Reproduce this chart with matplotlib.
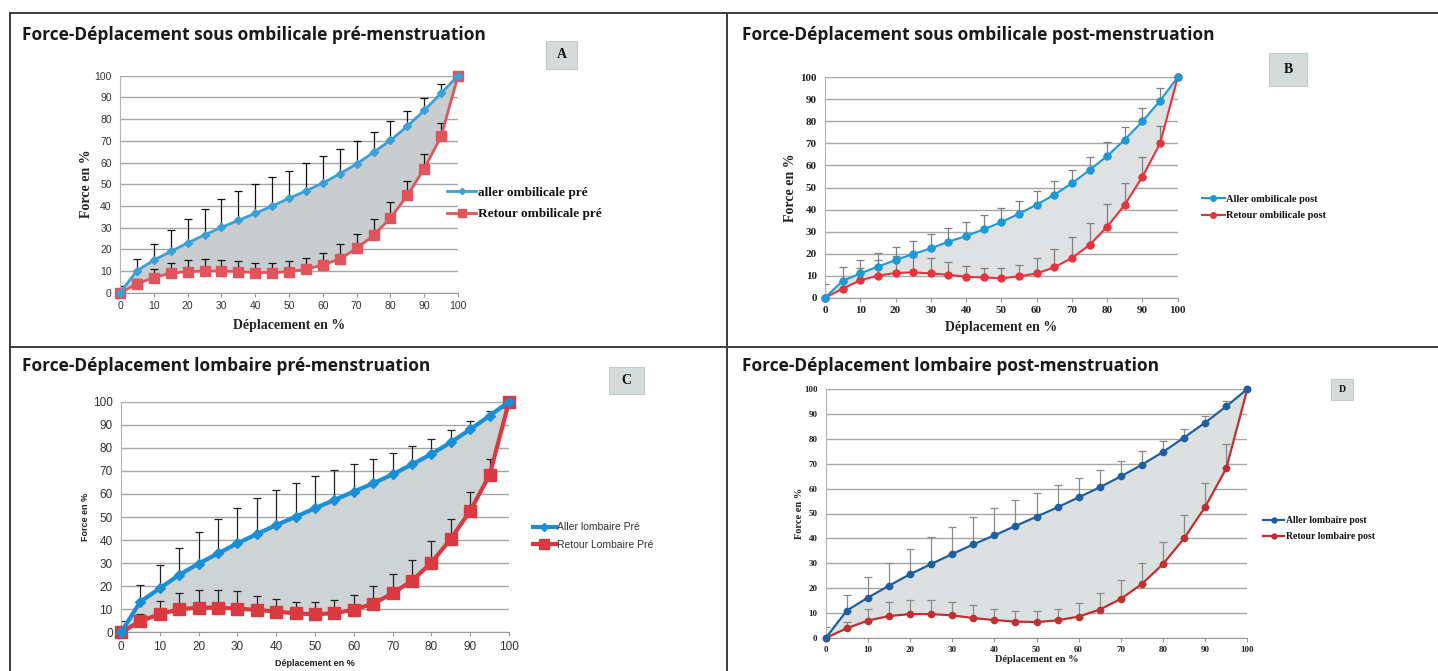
import matplotlib
matplotlib.use("Agg")
import matplotlib.pyplot as plt
from matplotlib.patches import Rectangle
from matplotlib.lines import Line2D

W, H = 1438, 671
fig = plt.figure(figsize=(W / 100, H / 100), dpi=100)

# ---------------- data ----------------
deplacement = [0, 5, 10, 15, 20, 25, 30, 35, 40, 45, 50, 55, 60, 65, 70, 75, 80, 85, 90, 95, 100]
ticks = [0, 10, 20, 30, 40, 50, 60, 70, 80, 90, 100]

# A : sous ombilicale pré-menstruation
a_aller = [0, 10.1, 15.0, 19.0, 22.9, 26.6, 30.1, 33.3, 36.6, 39.9, 43.5, 46.9, 50.5, 54.8, 59.3, 64.7, 70.2, 76.7, 84.0, 91.9, 100]
a_aller_top = [3.0, 15.7, 22.6, 29.0, 34.0, 38.8, 43.3, 46.8, 50.3, 53.5, 56.3, 59.6, 62.8, 66.4, 70.0, 74.0, 79.0, 83.6, 89.7, 96.4, 100]
a_retour = [0, 4.0, 7.0, 9.0, 9.7, 10.0, 10.0, 9.7, 9.3, 9.3, 9.7, 10.8, 12.8, 15.5, 20.4, 26.4, 34.4, 44.8, 57.2, 72.0, 100]
a_retour_top = [0, 6.2, 10.7, 13.5, 15.0, 15.4, 15.0, 14.6, 13.9, 13.9, 14.6, 16.2, 18.5, 22.5, 27.2, 34.0, 42.0, 51.7, 63.7, 78.0, 100]

# B : sous ombilicale post-menstruation
b_aller = [0, 7.6, 11.0, 14.1, 17.1, 19.8, 22.4, 25.4, 28.0, 31.0, 34.3, 38.1, 42.2, 46.7, 51.9, 57.9, 64.3, 71.7, 80.0, 89.4, 100]
b_aller_top = [6.0, 13.8, 17.1, 20.1, 23.1, 25.9, 28.7, 31.5, 34.3, 37.4, 40.8, 44.0, 48.3, 53.1, 57.9, 63.8, 70.5, 77.6, 85.9, 95.3, 100]
b_retour = [0, 4.1, 7.9, 10.0, 11.2, 11.5, 11.0, 10.4, 9.5, 9.2, 8.8, 9.7, 11.0, 13.8, 18.0, 23.9, 32.2, 42.2, 54.9, 70.0, 100]
b_retour_top = [0, 7.0, 13.5, 17.2, 18.8, 18.5, 17.9, 16.1, 14.6, 13.3, 13.4, 15.0, 18.0, 22.0, 27.4, 34.0, 42.3, 52.2, 64.0, 78.0, 100]

# C : lombaire pré-menstruation
c_aller = [0, 13.3, 19.1, 24.9, 29.8, 34.2, 38.6, 42.6, 46.5, 50.1, 53.8, 57.4, 61.0, 64.6, 68.5, 72.8, 77.3, 82.4, 88.0, 93.9, 100]
c_aller_top = [4.9, 20.7, 29.2, 36.7, 43.5, 49.3, 53.9, 58.2, 61.8, 64.9, 67.8, 70.2, 72.8, 75.3, 77.9, 80.6, 84.0, 87.6, 91.5, 95.8, 100]
c_retour = [0, 4.8, 7.9, 10.0, 10.7, 10.7, 10.3, 9.7, 9.0, 8.2, 7.8, 8.3, 9.8, 12.4, 16.9, 22.4, 30.2, 40.5, 52.7, 68.2, 100]
c_retour_top = [0, 7.8, 13.6, 17.1, 18.4, 18.4, 17.8, 15.9, 14.5, 13.2, 13.2, 14.0, 16.2, 19.9, 25.3, 31.4, 39.6, 49.3, 61.0, 75.3, 100]

# D : lombaire post-menstruation
d_aller = [0, 11.0, 16.2, 21.0, 25.6, 29.7, 33.7, 37.6, 41.2, 45.0, 48.7, 52.5, 56.5, 60.5, 64.9, 69.6, 74.7, 80.5, 86.5, 93.0, 100]
d_aller_top = [4.3, 17.4, 24.4, 30.3, 35.6, 40.4, 44.7, 48.5, 52.1, 55.3, 58.1, 61.3, 64.4, 67.6, 70.9, 74.9, 79.0, 83.8, 89.0, 95.0, 100]
d_retour = [0, 3.9, 7.0, 8.8, 9.6, 9.6, 9.1, 8.0, 7.2, 6.6, 6.4, 7.1, 8.6, 11.4, 15.7, 21.7, 29.7, 40.0, 52.6, 68.1, 100]
d_retour_top = [0, 6.6, 11.5, 14.3, 15.4, 15.4, 14.6, 13.1, 11.8, 10.7, 10.7, 11.8, 14.2, 17.9, 23.2, 30.0, 38.7, 49.3, 62.1, 77.9, 100]

titles = ["Force-Déplacement sous ombilicale pré-menstruation",
          "Force-Déplacement sous ombilicale post-menstruation",
          "Force-Déplacement lombaire pré-menstruation",
          "Force-Déplacement lombaire post-menstruation"]
letters = ["A", "B", "C", "D"]
legend_aller = ["aller ombilicale pré", "Aller ombilicale post", "Aller lombaire Pré", "Aller lombaire post"]
legend_retour = ["Retour ombilicale pré", "Retour ombilicale post", "Retour Lombaire Pré", "Retour lombaire post"]
ylabel = "Force en %"
xlabel = "Déplacement en %"

series = [(a_aller, a_aller_top, a_retour, a_retour_top),
          (b_aller, b_aller_top, b_retour, b_retour_top),
          (c_aller, c_aller_top, c_retour, c_retour_top),
          (d_aller, d_aller_top, d_retour, d_retour_top)]

# ---------------- layout / styles ----------------
SERIF = ["Liberation Serif", "DejaVu Serif"]
SANS = ["Liberation Sans", "DejaVu Sans"]
TITLEF = ["Open Sans", "DejaVu Sans"]

styles = [
    dict(box=(120, 458, 75.7, 292.7), title_xy=(22, 35),
         blue="#3aa0d8", red="#e2545c", fill="#c9cdd0", lw=2.0,
         bm="D", bms=4, rm="s", rms=7.5, err="#111111",
         tickfont=SANS, tickw="normal", ticksize=7.5, tickcolor="#333333",
         labfont=SERIF, labsize=10, ylab_x=86, xlab_y=325,
         leg_xy=(447, 203.5), leg_size=9.5, leg_font=SERIF, leg_w="bold",
         leg_color="#111111", lbox=(546, 577, 41, 69), lsize=10),
    dict(box=(825, 1177.7, 77.3, 297.7), title_xy=(742, 35),
         blue="#1a9ad6", red="#e8323c", fill="#dfe1e2", lw=1.5,
         bm="o", bms=5, rm="o", rms=5, err="#7f7f7f",
         tickfont=SERIF, tickw="bold", ticksize=8, tickcolor="#222222",
         labfont=SERIF, labsize=10, ylab_x=790, xlab_y=327,
         leg_xy=(1202, 207.5), leg_size=7.5, leg_font=SERIF, leg_w="bold",
         leg_color="#111111", lbox=(1269, 1307, 53, 86), lsize=10),
    dict(box=(121, 509, 401.7, 632.3), title_xy=(22, 366),
         blue="#1a8fd6", red="#d9393f", fill="#ced3d5", lw=3.0,
         bm="D", bms=5, rm="s", rms=9, err="#222222",
         tickfont=SANS, tickw="normal", ticksize=8.5, tickcolor="#333333",
         labfont=SANS, labsize=6.5, ylab_x=85, xlab_y=663,
         leg_xy=(533, 536), leg_size=7.5, leg_font=SANS, leg_w="normal",
         leg_color="#333333", lbox=(609, 644, 367, 394), lsize=10),
    dict(box=(825.7, 1247.3, 389, 638), title_xy=(742, 366),
         blue="#1f5fa0", red="#c0302f", fill="#dde0e1", lw=1.6,
         bm="o", bms=4.5, rm="o", rms=4.5, err="#8a8a8a",
         tickfont=SERIF, tickw="bold", ticksize=6.5, tickcolor="#222222",
         labfont=SERIF, labsize=7.5, ylab_x=800, xlab_y=660,
         leg_xy=(1263, 528.5), leg_size=7, leg_font=SERIF, leg_w="bold",
         leg_color="#111111", lbox=(1331, 1353, 379, 400), lsize=7),
]


def fx(x):
    return x / W


def fy(y):
    return 1 - y / H


# frame lines of the table
frame_kw = dict(color="#3c3c3c", lw=1.4, transform=fig.transFigure)
fig.add_artist(Line2D([fx(10), 1], [fy(13), fy(13)], **frame_kw))
fig.add_artist(Line2D([fx(10), 1], [fy(347), fy(347)], **frame_kw))
fig.add_artist(Line2D([fx(10), fx(10)], [fy(13), 0], **frame_kw))
fig.add_artist(Line2D([fx(727), fx(727)], [fy(13), 0], **frame_kw))

for i, st in enumerate(styles):
    aller, aller_top, retour, retour_top = series[i]
    l, r, t, b = st["box"]
    ax = fig.add_axes([fx(l), fy(b), (r - l) / W, (b - t) / H])

    ax.fill_between(deplacement, retour, aller, color=st["fill"], zorder=1, lw=0)

    err_a = [[0] * len(aller), [max(0, tp - v) for tp, v in zip(aller_top, aller)]]
    err_r = [[0] * len(retour), [max(0, tp - v) for tp, v in zip(retour_top, retour)]]
    ax.errorbar(deplacement, aller, yerr=err_a, fmt="none", ecolor=st["err"],
                elinewidth=0.9, capsize=3, capthick=0.9, zorder=2)
    ax.errorbar(deplacement, retour, yerr=err_r, fmt="none", ecolor=st["err"],
                elinewidth=0.9, capsize=3, capthick=0.9, zorder=2)

    ax.plot(deplacement, aller, color=st["blue"], lw=st["lw"], marker=st["bm"],
            ms=st["bms"], mec=st["blue"], mfc=st["blue"], zorder=4, clip_on=False,
            label=legend_aller[i])
    ax.plot(deplacement, retour, color=st["red"], lw=st["lw"], marker=st["rm"],
            ms=st["rms"], mec=st["red"], mfc=st["red"], zorder=3, clip_on=False,
            label=legend_retour[i])

    ax.set_xlim(0, 100)
    ax.set_ylim(0, 100)
    ax.set_xticks(ticks)
    ax.set_yticks(ticks)
    ax.yaxis.grid(True, color="#a6a6a6", lw=1.0)
    ax.set_axisbelow(True)
    for s in ["top", "right"]:
        ax.spines[s].set_visible(False)
    ax.spines["left"].set_color("#b5b5b5")
    ax.spines["bottom"].set_color("#9a9a9a")
    ax.tick_params(axis="y", length=0, pad=6)
    ax.tick_params(axis="x", length=3, color="#9a9a9a", pad=3)
    for lab in ax.get_xticklabels() + ax.get_yticklabels():
        lab.set_family(st["tickfont"])
        lab.set_fontweight(st["tickw"])
        lab.set_fontsize(st["ticksize"])
        lab.set_color(st["tickcolor"])

    # axis labels (figure-placed)
    fig.text(fx(st["ylab_x"]), fy((t + b) / 2), ylabel, rotation=90, ha="center",
             va="center", family=st["labfont"], fontweight="bold",
             fontsize=st["labsize"], color="#222222")
    fig.text(fx((l + r) / 2), fy(st["xlab_y"]), xlabel, ha="center", va="center",
             family=st["labfont"], fontweight="bold", fontsize=st["labsize"],
             color="#222222")

    # title
    fig.text(fx(st["title_xy"][0]), fy(st["title_xy"][1]), titles[i], ha="left",
             va="center", family=TITLEF, fontweight="bold", fontsize=12.5,
             color="#1a1a1a")

    # legend
    lx, ly = st["leg_xy"]
    leg = ax.legend(loc="center left", bbox_to_anchor=(fx(lx), fy(ly)),
                    bbox_transform=fig.transFigure, frameon=False,
                    prop=dict(family=st["leg_font"], weight=st["leg_w"], size=st["leg_size"]),
                    handlelength=2.2, handletextpad=0.15, borderaxespad=0,
                    borderpad=0, labelspacing=0.7, markerscale=0.8)
    for txt in leg.get_texts():
        txt.set_color(st["leg_color"])

    # letter box
    bl, br, bt, bb = st["lbox"]
    fig.add_artist(Rectangle((fx(bl), fy(bb)), (br - bl) / W, (bb - bt) / H,
                             transform=fig.transFigure, facecolor="#d5dadb",
                             edgecolor="#c4c9ca", lw=0.8))
    fig.text(fx((bl + br) / 2), fy((bt + bb) / 2), letters[i], ha="center",
             va="center", family=SERIF, fontweight="bold", fontsize=st["lsize"],
             color="#111111")

fig.savefig("out.png", dpi=100, facecolor="white")
